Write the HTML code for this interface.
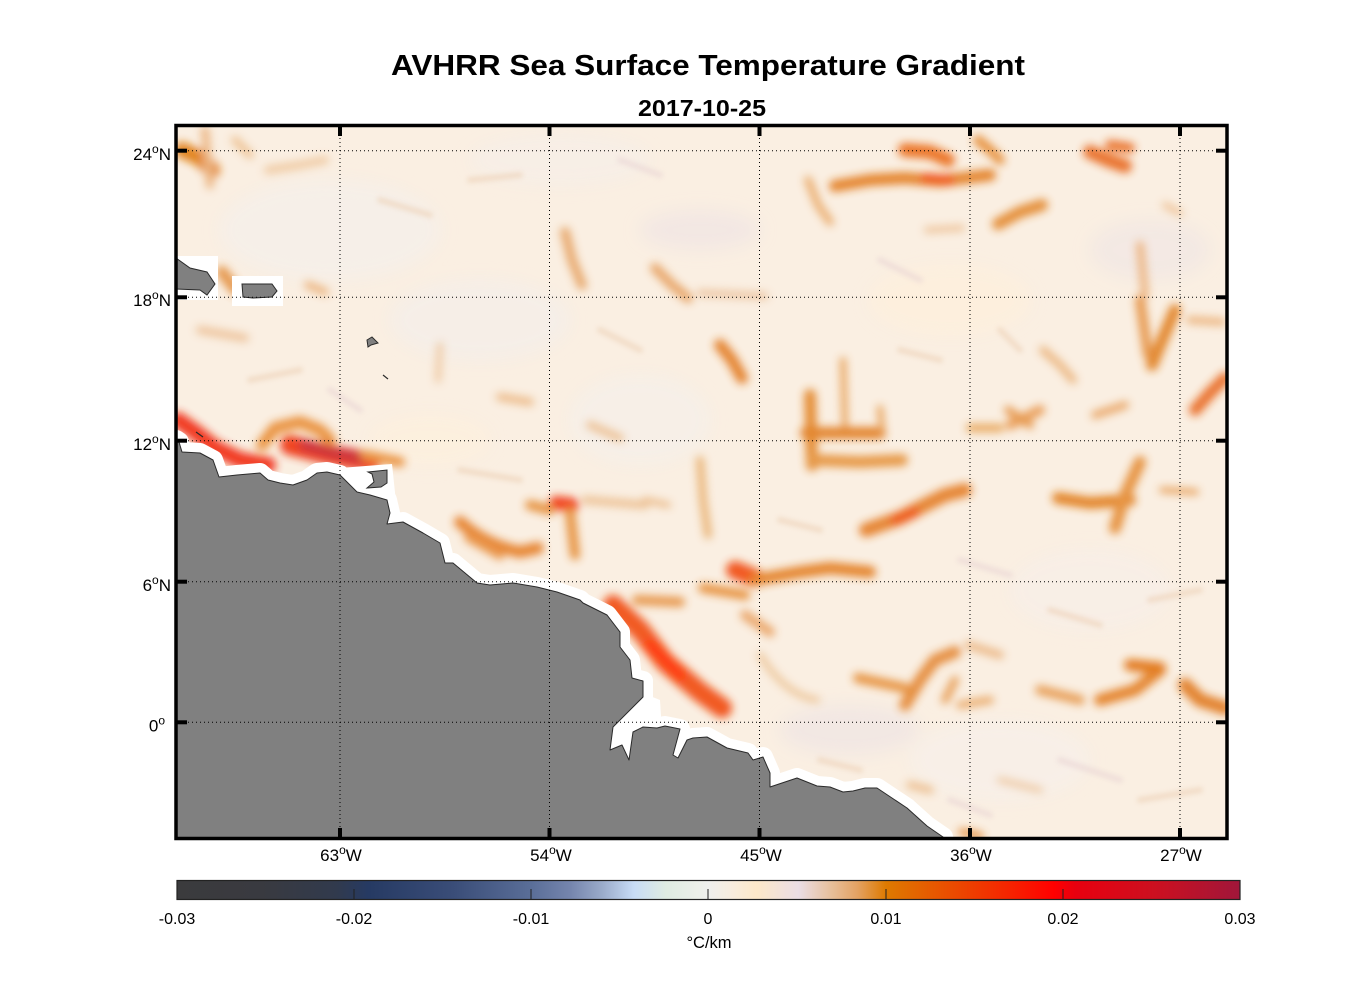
<!DOCTYPE html>
<html>
<head>
<meta charset="utf-8">
<style>
html,body{margin:0;padding:0;background:#fff;}
svg{display:block;}
text{font-family:"Liberation Sans",Arial,sans-serif;fill:#000;}
</style>
</head>
<body>
<svg width="1356" height="1000" viewBox="0 0 1356 1000" xmlns="http://www.w3.org/2000/svg">
<defs>
  <clipPath id="mapclip"><rect x="176" y="126" width="1051" height="712"/></clipPath>
  <filter id="blur3" x="-10%" y="-10%" width="120%" height="120%"><feGaussianBlur stdDeviation="4.2"/></filter>
  <filter id="blur2" x="-10%" y="-10%" width="120%" height="120%"><feGaussianBlur stdDeviation="2.5"/></filter>
  <filter id="blur8" x="-30%" y="-30%" width="160%" height="160%"><feGaussianBlur stdDeviation="8"/></filter>
  <linearGradient id="cbar" x1="0" y1="0" x2="1" y2="0">
    <stop offset="0" stop-color="#3b3b3d"/>
    <stop offset="0.08" stop-color="#393a40"/>
    <stop offset="0.15" stop-color="#313a4d"/>
    <stop offset="0.18" stop-color="#263a63"/>
    <stop offset="0.26" stop-color="#3a4d78"/>
    <stop offset="0.333" stop-color="#5a6e98"/>
    <stop offset="0.37" stop-color="#7585ad"/>
    <stop offset="0.40" stop-color="#9aabca"/>
    <stop offset="0.43" stop-color="#c8dcf6"/>
    <stop offset="0.46" stop-color="#dfece2"/>
    <stop offset="0.49" stop-color="#ecefe9"/>
    <stop offset="0.50" stop-color="#efefed"/>
    <stop offset="0.52" stop-color="#f7ede0"/>
    <stop offset="0.545" stop-color="#fde8c9"/>
    <stop offset="0.585" stop-color="#ebdde4"/>
    <stop offset="0.615" stop-color="#e7c09c"/>
    <stop offset="0.64" stop-color="#e3a263"/>
    <stop offset="0.667" stop-color="#de7a00"/>
    <stop offset="0.72" stop-color="#e85200"/>
    <stop offset="0.78" stop-color="#f52600"/>
    <stop offset="0.825" stop-color="#ff0000"/>
    <stop offset="0.845" stop-color="#e8000f"/>
    <stop offset="0.92" stop-color="#cc1020"/>
    <stop offset="1" stop-color="#a0163a"/>
  </linearGradient>
</defs>

<!-- Titles -->
<text x="391" y="75" font-size="29" font-weight="bold" textLength="634" lengthAdjust="spacingAndGlyphs">AVHRR Sea Surface Temperature Gradient</text>
<text x="638" y="116" font-size="23" font-weight="bold" textLength="128" lengthAdjust="spacingAndGlyphs">2017-10-25</text>

<!-- Map -->
<g clip-path="url(#mapclip)">
  <rect x="176" y="126" width="1051" height="712" fill="#faefe2"/>
  <!-- pale texture -->
  <g filter="url(#blur8)">
    <ellipse cx="330" cy="230" rx="110" ry="50" fill="#f5efea" opacity="0.8"/>
    <ellipse cx="480" cy="320" rx="90" ry="40" fill="#f4eeea" opacity="0.7"/>
    <ellipse cx="640" cy="420" rx="70" ry="45" fill="#f5efea" opacity="0.7"/>
    <ellipse cx="1000" cy="760" rx="90" ry="40" fill="#f6efe9" opacity="0.7"/>
    <ellipse cx="1090" cy="590" rx="80" ry="40" fill="#f6efea" opacity="0.6"/>
    <ellipse cx="560" cy="160" rx="90" ry="25" fill="#f5eeea" opacity="0.6"/>
    <ellipse cx="950" cy="300" rx="80" ry="35" fill="#fdf0dc" opacity="0.7"/>
    <ellipse cx="850" cy="730" rx="70" ry="25" fill="#ede2e4" opacity="0.6"/>
    <ellipse cx="700" cy="230" rx="60" ry="20" fill="#eee3e5" opacity="0.6"/>
    <ellipse cx="430" cy="440" rx="60" ry="25" fill="#fdf0dc" opacity="0.6"/>
    <ellipse cx="1150" cy="250" rx="60" ry="30" fill="#eee3e5" opacity="0.5"/>
  </g>
  <!-- faint texture streaks -->
  <g filter="url(#blur2)" fill="none" stroke-linecap="round" opacity="0.55">
    <path d="M380,200 L430,215" stroke="#eccfb4" stroke-width="6"/>
    <path d="M470,180 L520,175" stroke="#eccfb4" stroke-width="6"/>
    <path d="M620,160 L660,175" stroke="#e8d3d3" stroke-width="6"/>
    <path d="M250,380 L300,370" stroke="#eccfb4" stroke-width="6"/>
    <path d="M330,390 L360,410" stroke="#e8d3d3" stroke-width="6"/>
    <path d="M460,470 L520,480" stroke="#eccfb4" stroke-width="6"/>
    <path d="M600,330 L640,350" stroke="#eccfb4" stroke-width="6"/>
    <path d="M880,260 L920,280" stroke="#e8d3d3" stroke-width="6"/>
    <path d="M900,350 L940,360" stroke="#eccfb4" stroke-width="6"/>
    <path d="M960,560 L1010,575" stroke="#e8d3d3" stroke-width="6"/>
    <path d="M1050,610 L1100,625" stroke="#eccfb4" stroke-width="6"/>
    <path d="M1150,600 L1200,590" stroke="#eccfb4" stroke-width="6"/>
    <path d="M1060,760 L1120,780" stroke="#e8d3d3" stroke-width="6"/>
    <path d="M1140,800 L1200,790" stroke="#eccfb4" stroke-width="6"/>
    <path d="M820,760 L860,770" stroke="#eccfb4" stroke-width="6"/>
    <path d="M950,800 L990,815" stroke="#e8d3d3" stroke-width="6"/>
    <path d="M1000,330 L1020,350" stroke="#eccfb4" stroke-width="6"/>
    <path d="M780,520 L820,530" stroke="#eccfb4" stroke-width="6"/>
  </g>
  <!-- gradient streaks -->
  <g filter="url(#blur3)" fill="none" stroke-linecap="round" stroke-linejoin="round" opacity="0.9">
    <path d="M182,150 L200,158 L212,170" stroke="#e07a10" stroke-width="16"/>
    <path d="M205,130 L210,185" stroke="#eab07a" stroke-width="8"/>
    <path d="M235,140 L250,155" stroke="#edc090" stroke-width="8"/>
    <path d="M268,170 L300,165 L325,160" stroke="#eec69c" stroke-width="8"/>
    <path d="M222,272 L236,290" stroke="#e39040" stroke-width="12"/>
    <path d="M308,285 L325,292" stroke="#ebb27c" stroke-width="8"/>
    <path d="M200,330 L245,338" stroke="#ecc096" stroke-width="8"/>
    <path d="M440,345 L438,380" stroke="#edc49c" stroke-width="6"/>
    <path d="M500,397 L530,402" stroke="#ebb784" stroke-width="8"/>
    <path d="M565,232 L572,260 L582,285" stroke="#e6a466" stroke-width="10"/>
    <path d="M655,268 L672,285 L688,298" stroke="#e6a060" stroke-width="10"/>
    <path d="M700,293 L765,296" stroke="#ebc09a" stroke-width="7"/>
    <path d="M590,425 L620,438" stroke="#ebbd8e" stroke-width="8"/>

    <path d="M905,150 L930,152 L948,160" stroke="#ea6a18" stroke-width="14"/>
    <path d="M835,186 L870,180 L905,178 L940,181 L990,175" stroke="#e27a1a" stroke-width="12"/>
    <path d="M925,178 L950,180" stroke="#ee4a10" stroke-width="10"/>
    <path d="M808,180 L818,205 L830,222" stroke="#e9a968" stroke-width="8"/>
    <path d="M978,140 L990,150 L1000,160" stroke="#e58a30" stroke-width="10"/>
    <path d="M998,224 L1020,212 L1042,205" stroke="#e2862a" stroke-width="12"/>
    <path d="M1090,152 L1108,160 L1125,166" stroke="#e8681c" stroke-width="14"/>
    <path d="M1110,145 L1130,148" stroke="#e8681c" stroke-width="10"/>
    <path d="M1140,245 L1145,295" stroke="#ebb07a" stroke-width="8"/>
    <path d="M1140,300 L1148,355" stroke="#e49040" stroke-width="10"/>
    <path d="M1175,310 L1160,345 L1152,365" stroke="#e07e1e" stroke-width="12"/>
    <path d="M1190,320 L1222,322" stroke="#ebb27c" stroke-width="8"/>
    <path d="M1195,410 L1210,393 L1225,378" stroke="#e8661a" stroke-width="12"/>
    <path d="M843,360 L845,428" stroke="#e69a4c" stroke-width="6"/>
    <path d="M810,395 L812,465" stroke="#e28428" stroke-width="12"/>
    <path d="M806,433 L880,433" stroke="#e07a1a" stroke-width="12"/>
    <path d="M880,408 L882,430" stroke="#e69a4c" stroke-width="6"/>
    <path d="M812,460 L860,462 L902,460" stroke="#e49038" stroke-width="12"/>
    <path d="M1010,425 L1040,410" stroke="#e89850" stroke-width="10"/>
    <path d="M1043,350 L1060,365 L1073,380" stroke="#eab27a" stroke-width="8"/>
    <path d="M1095,415 L1125,405" stroke="#e8a260" stroke-width="8"/>
    <path d="M927,230 L962,228" stroke="#ecbd90" stroke-width="6"/>
    <path d="M1165,205 L1180,213" stroke="#ecbb8c" stroke-width="6"/>
    <path d="M720,345 L732,360 L742,378" stroke="#e27a20" stroke-width="12"/>
    <path d="M866,530 L900,518 L925,505 L945,495 L965,490" stroke="#e47a20" stroke-width="14"/>
    <path d="M895,520 L915,512" stroke="#ee4810" stroke-width="10"/>
    <path d="M970,428 L1000,428" stroke="#e6a050" stroke-width="8"/>
    <path d="M1008,410 L1030,425" stroke="#e49040" stroke-width="8"/>
    <path d="M1058,498 L1090,503 L1130,500" stroke="#e07a18" stroke-width="12"/>
    <path d="M1140,462 L1125,495 L1115,528" stroke="#e48a30" stroke-width="12"/>
    <path d="M1162,490 L1196,492" stroke="#e69a50" stroke-width="6"/>
    <path d="M700,460 L703,500 L708,535" stroke="#e8b070" stroke-width="8"/>
    <path d="M645,500 L668,505" stroke="#eab580" stroke-width="6"/>

    <path d="M178,420 L195,432 L215,448 L240,460 L268,465" stroke="#f02808" stroke-width="16"/>
    <path d="M262,445 L275,428 L300,422 L320,430 L330,440" stroke="#e88a30" stroke-width="12"/>
    <path d="M290,445 L330,455 L370,462" stroke="#ee3010" stroke-width="20"/>
    <path d="M305,445 L330,452 L360,458" stroke="#c8202a" stroke-width="12"/>
    <path d="M365,455 L400,462" stroke="#e88a30" stroke-width="10"/>
    <path d="M460,522 Q485,545 520,552 L538,548" stroke="#e47a20" stroke-width="12"/>
    <path d="M468,538 L500,556" stroke="#e89040" stroke-width="8"/>
    <path d="M556,503 L572,505" stroke="#f03008" stroke-width="14"/>
    <path d="M570,512 L575,555" stroke="#e48a30" stroke-width="10"/>
    <path d="M530,505 L550,510" stroke="#e48a30" stroke-width="10"/>
    <path d="M585,500 L645,505" stroke="#ebbd8e" stroke-width="8"/>
    <path d="M613,605 L640,630 L665,662 L700,692 L722,708" stroke="#f04a10" stroke-width="20"/>
    <path d="M650,645 L680,675" stroke="#ff2a00" stroke-width="12"/>
    <path d="M637,600 L680,602" stroke="#e59040" stroke-width="10"/>
    <path d="M703,588 L745,595" stroke="#e58a30" stroke-width="10"/>
    <path d="M735,570 L755,578" stroke="#f04a08" stroke-width="18"/>
    <path d="M755,580 L800,572 L830,568 L870,572" stroke="#e27a1a" stroke-width="12"/>
    <path d="M745,615 L770,632" stroke="#e9a060" stroke-width="10"/>
    <path d="M760,655 Q785,695 817,700" stroke="#ebc090" stroke-width="6"/>
    <path d="M858,678 L905,688" stroke="#e48a30" stroke-width="10"/>
    <path d="M905,705 L920,680 L935,660 L955,652" stroke="#e38530" stroke-width="12"/>
    <path d="M945,700 L955,680" stroke="#e69a50" stroke-width="8"/>
    <path d="M910,785 L930,790" stroke="#ebbd8e" stroke-width="8"/>
    <path d="M968,645 L1000,655" stroke="#eab480" stroke-width="8"/>
    <path d="M1040,690 L1080,700" stroke="#e69a50" stroke-width="10"/>
    <path d="M1100,700 L1135,690 L1160,670" stroke="#e27a1a" stroke-width="12"/>
    <path d="M1130,665 L1160,668" stroke="#e07010" stroke-width="12"/>
    <path d="M1185,685 L1200,700 L1225,708" stroke="#e0781a" stroke-width="14"/>
    <path d="M990,700 L960,705" stroke="#e9a868" stroke-width="8"/>
    <path d="M962,832 L980,836" stroke="#e59040" stroke-width="8"/>
    <path d="M1000,780 L1040,790" stroke="#ecc49c" stroke-width="6"/>
  </g>

  <!-- white no-data coastal band -->
  <g fill="#fff" stroke="#fff" stroke-width="20" stroke-linejoin="round">
    <polygon points="176,440 179,442 182,452 200,453 213,460 219,477 237,475 260,473 268,480 280,483 293,485 307,480 317,473 327,472 340,475 357,492 370,495 387,500 390,513 387,524 403,522 423,533 440,543 445,563 453,563 477,583 490,585 513,583 537,587 557,592 580,600 583,603 607,615 620,632 620,647 630,660 632,678 643,681 643,697 637,703 620,720 613,727 610,750 622,745 629,760 633,732 643,727 657,728 665,726 680,729 673,755 678,758 687,740 693,738 707,737 727,748 748,753 753,760 763,757 770,773 770,787 797,778 817,786 830,787 843,792 853,791 865,788 877,788 907,808 927,826 943,837 945,845 176,845"/>
  </g>
  <g fill="#fff" stroke="none">
    <polygon points="340,468 392,464 396,502 357,494"/>
    <polygon points="612,718 645,694 660,700 662,732 640,730 633,760 608,752"/>
    <rect x="176" y="256" width="42" height="44"/>
    <rect x="232" y="276" width="51" height="30"/>
  </g>
  <!-- land -->
  <polygon fill="#808080" stroke="#2a2a2a" stroke-width="1" stroke-linejoin="round"
    points="176,440 179,442 182,452 200,453 213,460 219,477 237,475 260,473 268,480 280,483 293,485 307,480 317,473 327,472 340,475 357,492 370,495 387,500 390,513 387,524 403,522 423,533 440,543 445,563 453,563 477,583 490,585 513,583 537,587 557,592 580,600 583,603 607,615 620,632 620,647 630,660 632,678 643,681 643,697 637,703 620,720 613,727 610,750 622,745 629,760 633,732 643,727 657,728 665,726 680,729 673,755 678,758 687,740 693,738 707,737 727,748 748,753 753,760 763,757 770,773 770,787 797,778 817,786 830,787 843,792 853,791 865,788 877,788 907,808 927,826 943,837 946,845 176,845"/>
  <!-- Trinidad -->
  <polygon fill="#808080" stroke="#2a2a2a" stroke-width="1" points="368,472 387,470 387,483 381,487 367,488 374,482 372,474"/>
  <!-- Hispaniola -->
  <polygon fill="#808080" stroke="#2a2a2a" stroke-width="1" points="176,258 190,268 207,272 215,284 207,295 200,290 176,289"/>
  <!-- Puerto Rico -->
  <polygon fill="#808080" stroke="#2a2a2a" stroke-width="1" points="242,284 272,284 277,291 272,297 253,298 243,297"/>
  <!-- small islands -->
  <polygon fill="#808080" stroke="#2a2a2a" stroke-width="1" points="367,340 372,337 378,343 371,345 368,347"/>
  <line x1="383" y1="375" x2="388" y2="379" stroke="#2a2a2a" stroke-width="1.2"/>
  <line x1="196" y1="432" x2="203" y2="437" stroke="#2a2a2a" stroke-width="1.2"/>

  <!-- grid -->
  <g stroke="#000" stroke-width="1" stroke-dasharray="1 3">
    <line x1="176" y1="150.7" x2="1227" y2="150.7"/>
    <line x1="176" y1="297.3" x2="1227" y2="297.3"/>
    <line x1="176" y1="440.7" x2="1227" y2="440.7"/>
    <line x1="176" y1="581.7" x2="1227" y2="581.7"/>
    <line x1="176" y1="722.3" x2="1227" y2="722.3"/>
    <line x1="340" y1="126" x2="340" y2="838"/>
    <line x1="549.5" y1="126" x2="549.5" y2="838"/>
    <line x1="759.5" y1="126" x2="759.5" y2="838"/>
    <line x1="970" y1="126" x2="970" y2="838"/>
    <line x1="1180" y1="126" x2="1180" y2="838"/>
  </g>
</g>

<!-- frame -->
<rect x="176" y="125.5" width="1051" height="713" fill="none" stroke="#000" stroke-width="3.5"/>
<!-- ticks -->
<g stroke="#000" stroke-width="4">
  <line x1="176" y1="150.7" x2="187" y2="150.7"/>
  <line x1="176" y1="297.3" x2="187" y2="297.3"/>
  <line x1="176" y1="440.7" x2="187" y2="440.7"/>
  <line x1="176" y1="581.7" x2="187" y2="581.7"/>
  <line x1="176" y1="722.3" x2="187" y2="722.3"/>
  <line x1="1216" y1="150.7" x2="1227" y2="150.7"/>
  <line x1="1216" y1="297.3" x2="1227" y2="297.3"/>
  <line x1="1216" y1="440.7" x2="1227" y2="440.7"/>
  <line x1="1216" y1="581.7" x2="1227" y2="581.7"/>
  <line x1="1216" y1="722.3" x2="1227" y2="722.3"/>
  <line x1="340" y1="126" x2="340" y2="136"/>
  <line x1="549.5" y1="126" x2="549.5" y2="136"/>
  <line x1="759.5" y1="126" x2="759.5" y2="136"/>
  <line x1="970" y1="126" x2="970" y2="136"/>
  <line x1="1180" y1="126" x2="1180" y2="136"/>
  <line x1="340" y1="828" x2="340" y2="838"/>
  <line x1="549.5" y1="828" x2="549.5" y2="838"/>
  <line x1="759.5" y1="828" x2="759.5" y2="838"/>
  <line x1="970" y1="828" x2="970" y2="838"/>
  <line x1="1180" y1="828" x2="1180" y2="838"/>
</g>

<!-- lat labels -->
<g font-size="17">
  <text x="171" y="160" text-anchor="end">24<tspan font-size="12" dy="-7">o</tspan><tspan dy="7">N</tspan></text>
  <text x="171" y="306" text-anchor="end">18<tspan font-size="12" dy="-7">o</tspan><tspan dy="7">N</tspan></text>
  <text x="171" y="450" text-anchor="end">12<tspan font-size="12" dy="-7">o</tspan><tspan dy="7">N</tspan></text>
  <text x="171" y="591" text-anchor="end">6<tspan font-size="12" dy="-7">o</tspan><tspan dy="7">N</tspan></text>
  <text x="165" y="731.5" text-anchor="end">0<tspan font-size="12" dy="-7">o</tspan></text>
</g>
<!-- lon labels -->
<g font-size="17" text-anchor="middle">
  <text x="341" y="861">63<tspan font-size="12" dy="-7">o</tspan><tspan dy="7">W</tspan></text>
  <text x="551" y="861">54<tspan font-size="12" dy="-7">o</tspan><tspan dy="7">W</tspan></text>
  <text x="761" y="861">45<tspan font-size="12" dy="-7">o</tspan><tspan dy="7">W</tspan></text>
  <text x="971" y="861">36<tspan font-size="12" dy="-7">o</tspan><tspan dy="7">W</tspan></text>
  <text x="1181" y="861">27<tspan font-size="12" dy="-7">o</tspan><tspan dy="7">W</tspan></text>
</g>

<!-- colorbar -->
<rect x="177" y="880.5" width="1063" height="19" fill="url(#cbar)" stroke="#222" stroke-width="1.2"/>
<g stroke="#222" stroke-width="1">
  <line x1="354" y1="899" x2="354" y2="889"/>
  <line x1="531" y1="899" x2="531" y2="889"/>
  <line x1="708" y1="899" x2="708" y2="889"/>
  <line x1="886" y1="899" x2="886" y2="889"/>
  <line x1="1063" y1="899" x2="1063" y2="889"/>
</g>
<g font-size="16" text-anchor="middle">
  <text x="177" y="924">-0.03</text>
  <text x="354" y="924">-0.02</text>
  <text x="531" y="924">-0.01</text>
  <text x="708" y="924">0</text>
  <text x="886" y="924">0.01</text>
  <text x="1063" y="924">0.02</text>
  <text x="1240" y="924">0.03</text>
</g>
<text x="709" y="948" font-size="16.5" text-anchor="middle">°C/km</text>
</svg>
</body>
</html>
